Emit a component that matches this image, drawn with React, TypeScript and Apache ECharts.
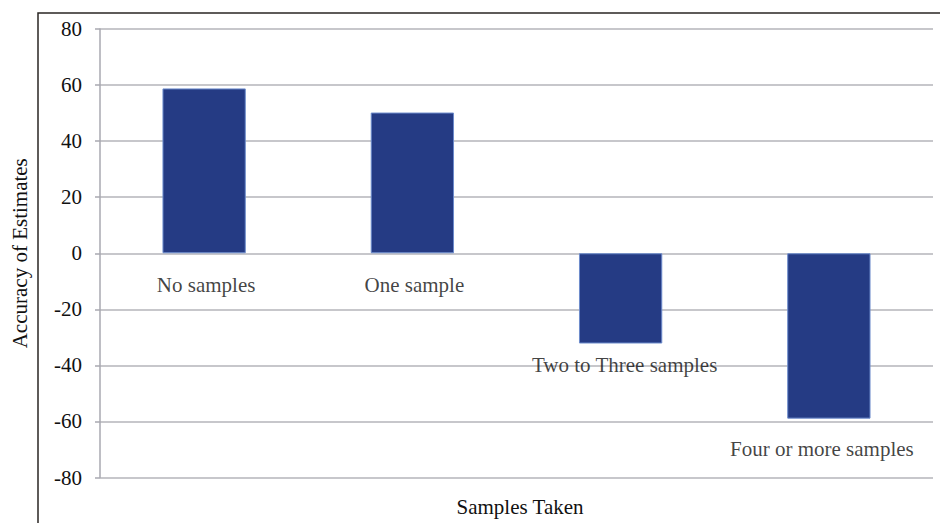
import React, { useEffect, useRef } from "react";
import * as echarts from "echarts";

const categories = ["No samples", "One sample", "Two to Three samples", "Four or more samples"];
const values = [58.8, 50.2, -32.2, -59];
const yTicks = { min: -80, max: 80, interval: 20 };
const axisNames = { x: "Samples Taken", y: "Accuracy of Estimates" };

const FONT = "Liberation Serif";
const FS = 21;

export default function App() {
  const ref = useRef<HTMLDivElement>(null);
  useEffect(() => {
    if (!ref.current) return;
    const chart = echarts.init(ref.current, null, { renderer: "svg" });
    const labelDistances = [21, 21, 11, 20];
    const labelShifts = [2, 2, 4, -7];
    const labelPoints = values.map((v, i) => ({
      value: [categories[i], v > 0 ? 0 : v],
      label: { distance: labelDistances[i], offset: [labelShifts[i], 0] },
    }));
    chart.setOption({
      animation: false,
      backgroundColor: "#ffffff",
      grid: {
        left: 100,
        right: 7,
        top: 29,
        bottom: 45.5,
        containLabel: false,
        outerBoundsMode: "none",
      },
      graphic: [
        {
          type: "rect",
          shape: { x: 38, y: 13, width: 940, height: 600 },
          style: { fill: "none", stroke: "#2a2623", lineWidth: 1.5 },
          silent: true,
        },
        {
          type: "text",
          x: 520,
          y: 507,
          style: {
            text: axisNames.x,
            font: `${FS}px "${FONT}"`,
            fill: "#111",
            align: "center",
            verticalAlign: "middle",
          },
        },
      ],
      xAxis: {
        type: "category",
        data: categories,
        axisLine: { show: false },
        axisTick: { show: false },
        axisLabel: { show: false },
        splitLine: { show: false },
      },
      yAxis: {
        type: "value",
        min: yTicks.min,
        max: yTicks.max,
        interval: yTicks.interval,
        name: axisNames.y,
        nameLocation: "middle",
        nameGap: 70,
        nameRotate: 90,
        nameTextStyle: { fontFamily: FONT, fontSize: FS, color: "#111" },
        axisLine: { show: true, lineStyle: { color: "#a9a9b0", width: 1.5 } },
        axisTick: { show: true, length: 5, lineStyle: { color: "#a9a9b0", width: 1.5 } },
        axisLabel: { fontFamily: FONT, fontSize: FS, color: "#111", margin: 18 },
        splitLine: { show: true, lineStyle: { color: "#b4b4ba", width: 1.5 } },
      },
      series: [
        {
          type: "bar",
          data: values,
          barWidth: "40%",
          itemStyle: { color: "#253b84", borderColor: "#6d8ccc", borderWidth: 1 },
        },
        {
          type: "scatter",
          data: labelPoints,
          symbolSize: 0,
          silent: true,
          label: {
            show: true,
            position: "bottom",
            formatter: (p: any) => p.value[0],
            fontFamily: FONT,
            fontSize: FS,
            color: "#111",
          },
        },
      ],
    });
    return () => chart.dispose();
  }, []);
  return (
    <div
      ref={ref}
      style={{ position: "fixed", left: 0, top: 0, width: 940, height: 523 }}
    />
  );
}
